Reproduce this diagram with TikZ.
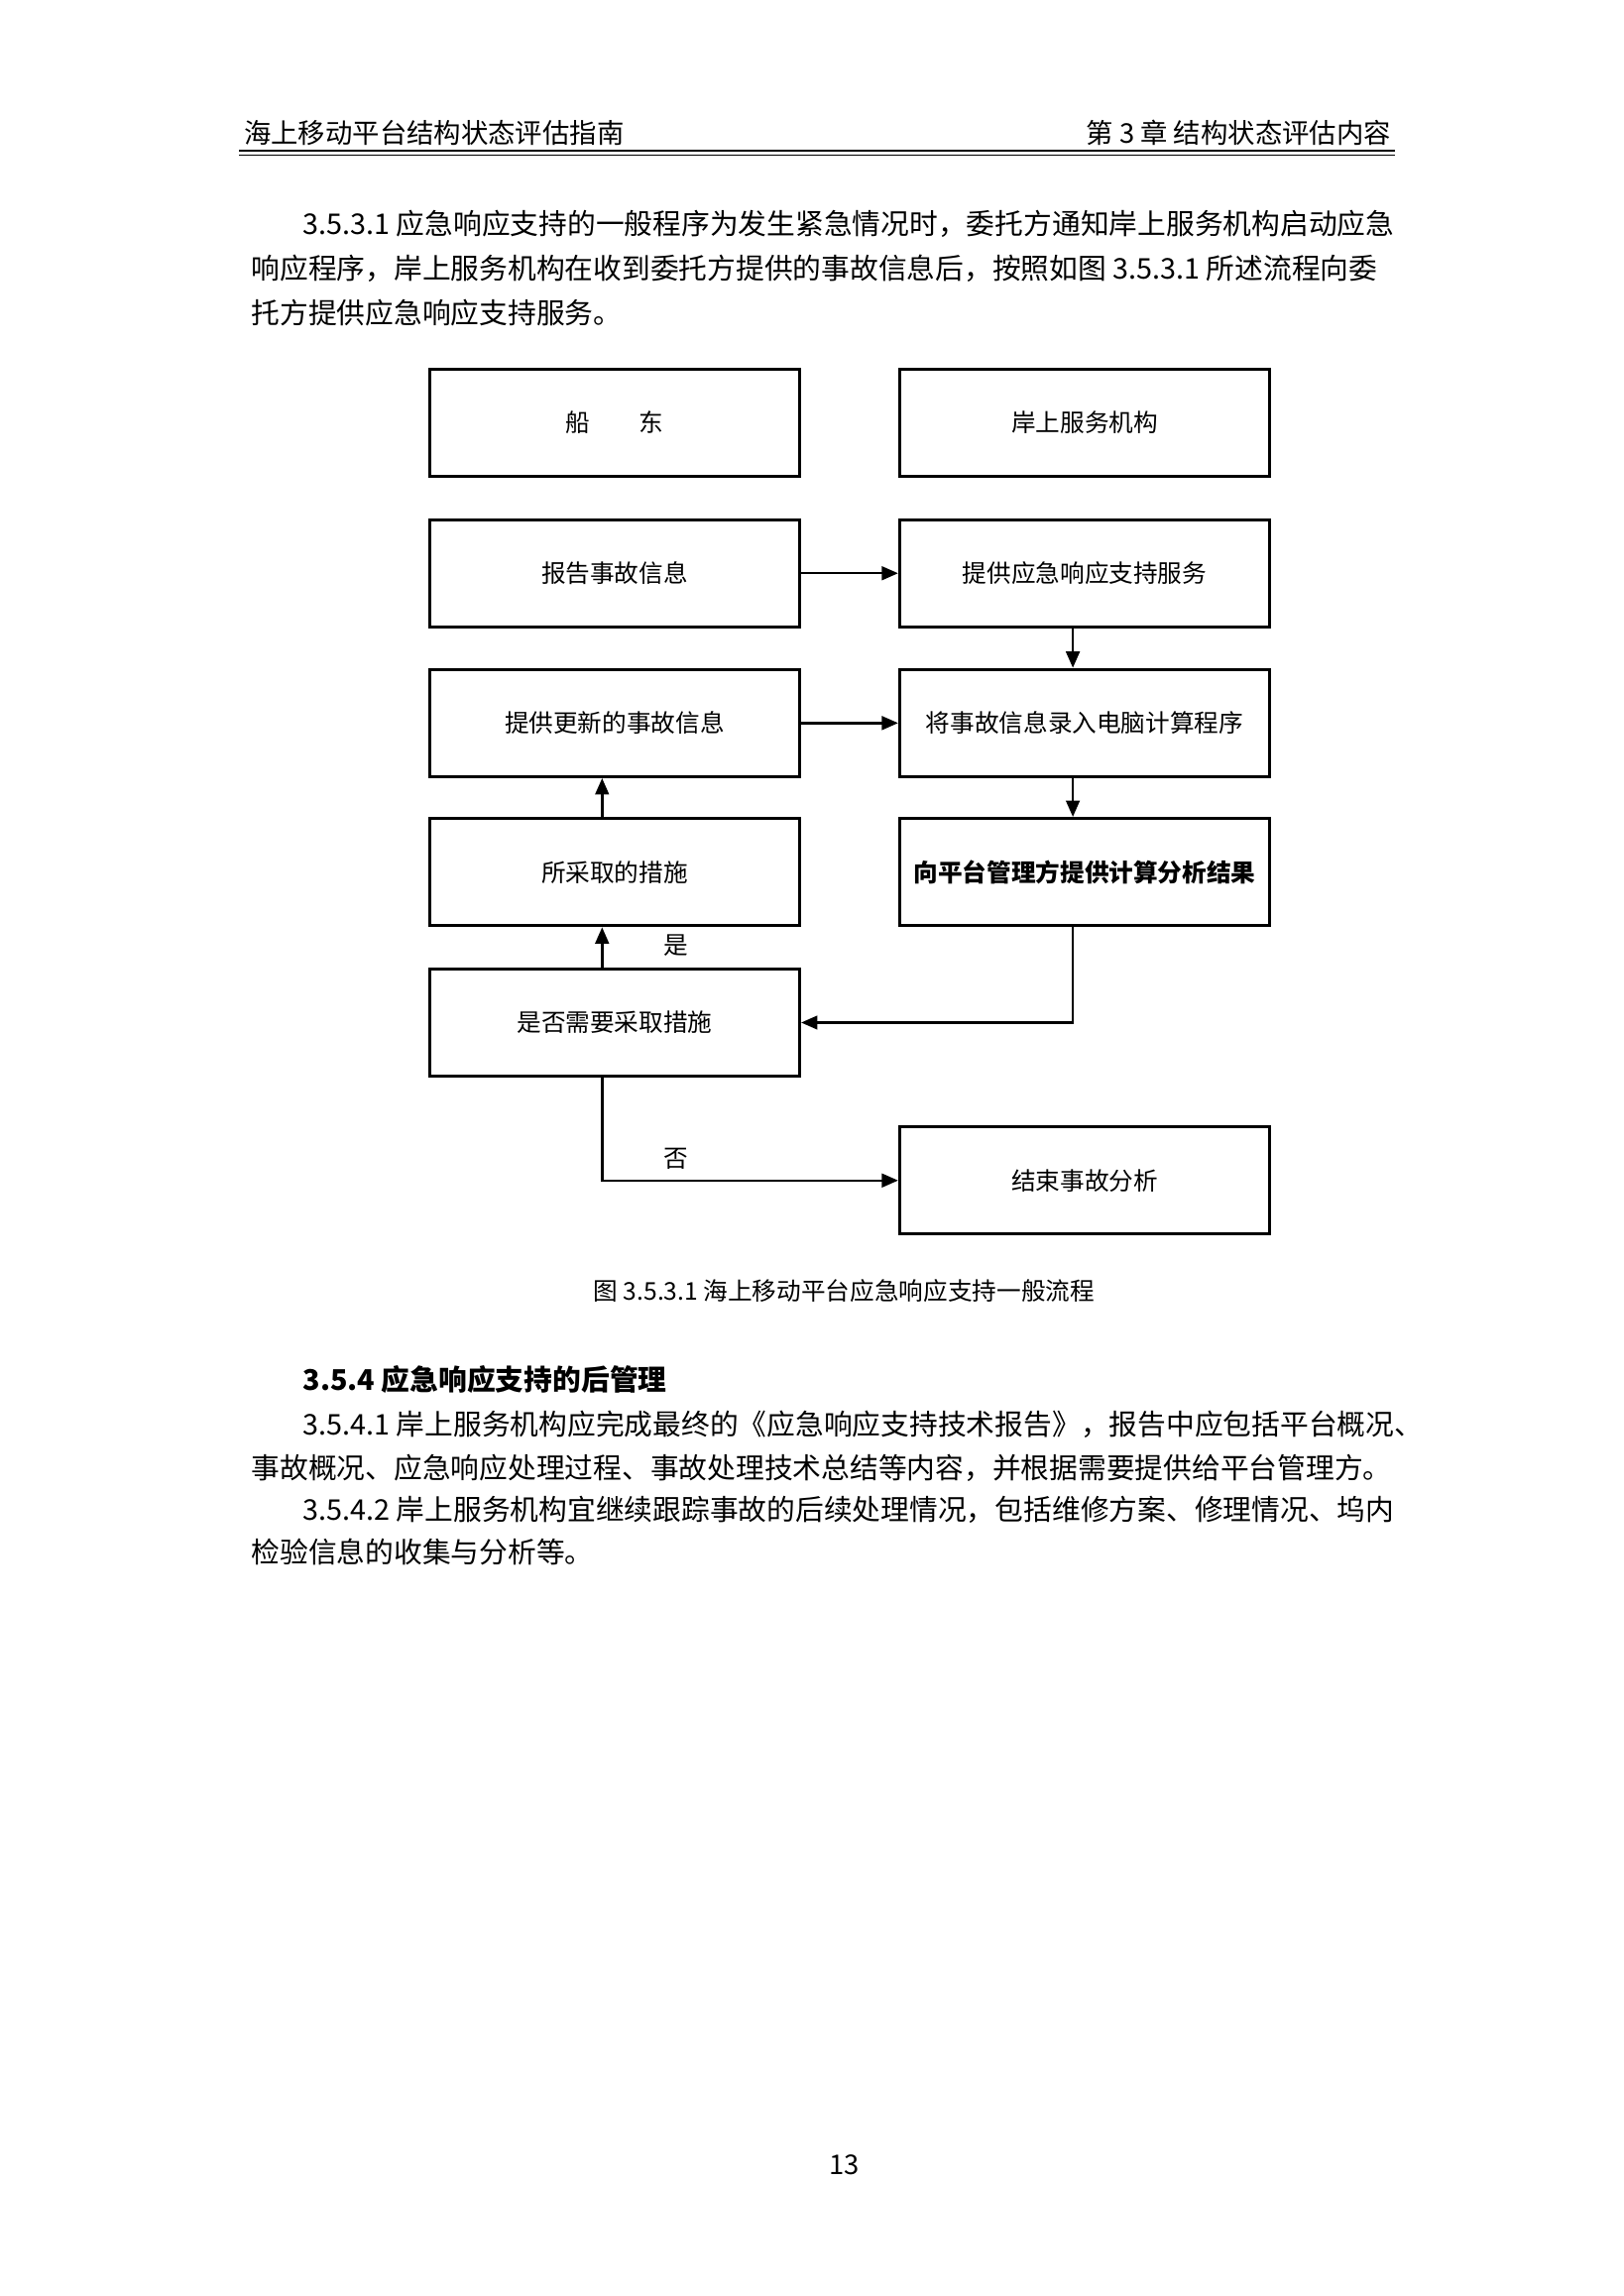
\documentclass[tikz,border=0pt]{standalone}
\usepackage{fontspec}
\setmainfont{Noto Sans CJK SC}
\usetikzlibrary{arrows.meta}

\begin{document}
\begin{tikzpicture}[x=0.0191cm, y=-0.0191cm,
    box/.style={draw, line width=1.1pt, minimum width=4.79cm, minimum height=1.39cm, inner sep=0pt, font=\fontsize{9}{11}\selectfont},
    line/.style={-{Triangle[length=6pt,width=5pt]}, line width=0.9pt},
    body/.style={anchor=west, inner sep=0pt, font=\fontsize{10.5}{12}\selectfont}]
    \useasboundingbox (0,0) rectangle (1100,1556);
    % header
    \node[anchor=west, inner sep=0pt, font=\fontsize{10}{12}\selectfont] (head1) at (165,90) {海上移动平台结构状态评估指南};
    \node[anchor=east, inner sep=0pt, font=\fontsize{10}{12}\selectfont] (head2) at (943,90) {第 3 章 结构状态评估内容};
    \draw[line width=0.8pt] (162,102) -- (945,102);
    \draw[line width=0.4pt] (162,105) -- (945,105);
    % text above
    \node[body] (t1) at (205,152) {3.5.3.1 应急响应支持的一般程序为发生紧急情况时，委托方通知岸上服务机构启动应急};
    \node[body] (t2) at (170,182) {响应程序，岸上服务机构在收到委托方提供的事故信息后，按照如图 3.5.3.1 所述流程向委};
    \node[body] (t3) at (170,212) {托方提供应急响应支持服务。};

    % nodes: left column
    \node[box] (owner) at (416.5,286.5) {船\hspace{2em}东};
    \node[box] (report) at (416.5,388.5) {报告事故信息};
    \node[box] (update) at (416.5,490) {提供更新的事故信息};
    \node[box] (measure) at (416.5,591) {所采取的措施};
    \node[box] (decide) at (416.5,693) {是否需要采取措施};
    % nodes: right column
    \node[box] (shore) at (735,286.5) {岸上服务机构};
    \node[box] (support) at (735,388.5) {提供应急响应支持服务};
    \node[box] (input) at (735,490) {将事故信息录入电脑计算程序};
    \node[box, font=\fontsize{9}{11}\selectfont\bfseries] (result) at (735,591) {向平台管理方提供计算分析结果};
    \node[box] (finish) at (735,800) {结束事故分析};

    % edges
    \draw[line] (report) -- (support);
    \draw[line] (update) -- (input);
    \draw[line] (support.south -| 727,0) -- (input.north -| 727,0);
    \draw[line] (input.south -| 727,0) -- (result.north -| 727,0);
    \draw[line] (result.south -| 727,0) |- (decide.east);
    \draw[line] (decide.north -| 408,0) -- (measure.south -| 408,0);
    \node[font=\fontsize{9}{11}\selectfont] (yes) at (458,641) {是};
    \draw[line] (measure.north -| 408,0) -- (update.south -| 408,0);
    \draw[line] (decide.south -| 408,0) |- (finish.west);
    \node[font=\fontsize{9}{11}\selectfont] (no) at (458,785) {否};

    % caption
    \node[font=\fontsize{9}{11}\selectfont] (cap) at (572,875) {图 3.5.3.1 海上移动平台应急响应支持一般流程};

    % text below
    \node[body, font=\fontsize{10.5}{12}\selectfont\bfseries] (s1) at (205,935) {3.5.4 应急响应支持的后管理};
    \node[body] (s2) at (205,965) {3.5.4.1 岸上服务机构应完成最终的《应急响应支持技术报告》，报告中应包括平台概况、};
    \node[body] (s3) at (170,995) {事故概况、应急响应处理过程、事故处理技术总结等内容，并根据需要提供给平台管理方。};
    \node[body] (s4) at (205,1023) {3.5.4.2 岸上服务机构宜继续跟踪事故的后续处理情况，包括维修方案、修理情况、坞内};
    \node[body] (s5) at (170,1052) {检验信息的收集与分析等。};
    % page number
    \node[font=\fontsize{10}{12}\selectfont] (page) at (572,1467) {13};
\end{tikzpicture}
\end{document}
